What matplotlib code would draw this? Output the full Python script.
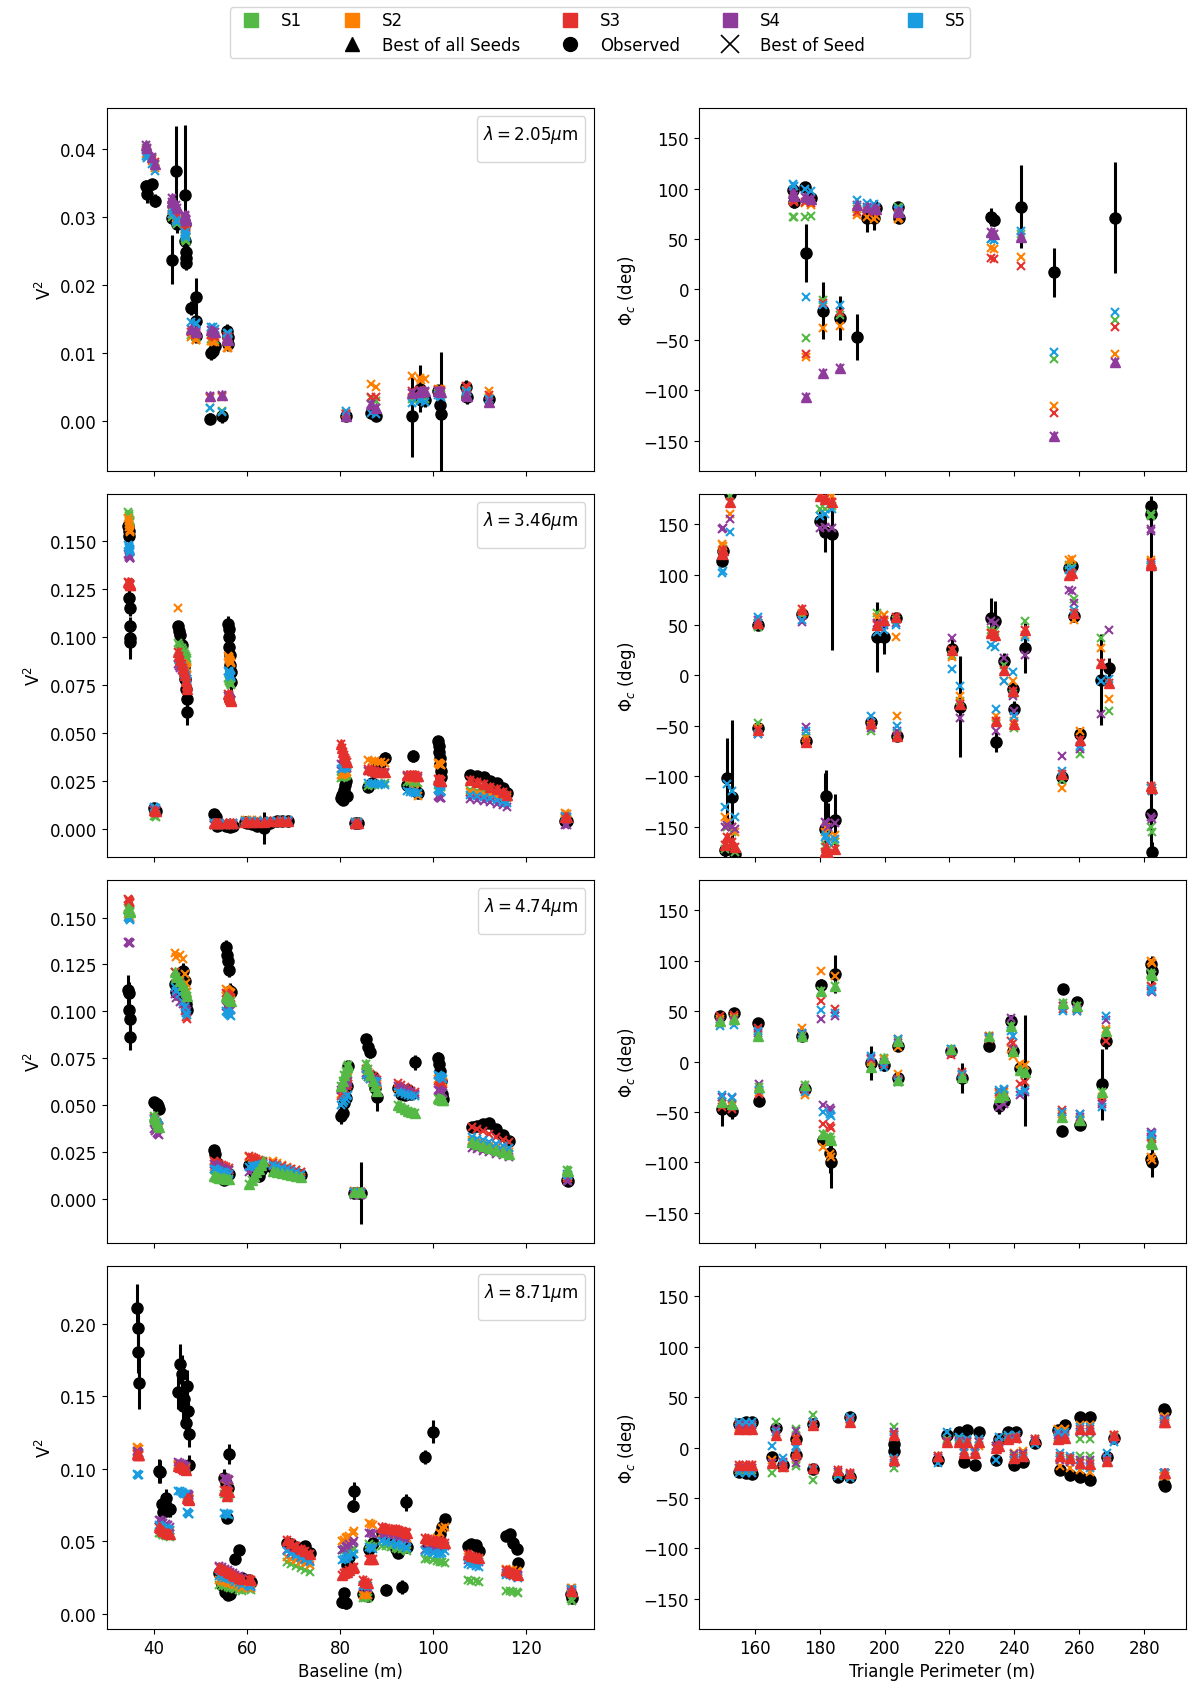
import matplotlib
matplotlib.use('Agg')
import matplotlib.pyplot as plt
from matplotlib.lines import Line2D
from matplotlib.ticker import MultipleLocator

plt.rcParams['font.size'] = 12

SEED_NAMES = ['S1', 'S2', 'S3', 'S4', 'S5']
SEED_COLORS = ['#55b946', '#ff8000', '#e5312e', '#8e3b9c', '#1a9de0']
WAVELENGTHS = ['2.05', '3.46', '4.74', '8.71']
BEST_SEED = [3, 2, 0, 2]

# ---------------- row 1 : 2.05 um ----------------
V1_X = [38.2, 38.4, 39.5, 40.2, 43.8, 43.9, 44.8, 44.9,
        46.7, 46.7, 46.7, 46.8, 46.8, 46.9, 47.9, 48.9, 48.9, 48.9,
        52.1, 52.3, 52.6, 53.2, 54.6, 55.7, 55.8, 55.9,
        81.3, 86.7, 87.8, 95.4, 97.2, 97.5, 98.2,
        101.1, 101.5, 101.8, 107.2, 107.3, 112.1]
V1_OBS = [0.0345, 0.0333, 0.0348, 0.0324, 0.0237, 0.0298, 0.0368, 0.0289,
          0.0332, 0.0289, 0.0264, 0.0249, 0.0240, 0.0232, 0.0166, 0.0183, 0.0147, 0.0125,
          0.0004, 0.0100, 0.0103, 0.0110, 0.0008, 0.0133, 0.0113, 0.0123,
          0.0008, 0.0012, 0.0008, 0.0008, 0.0048, 0.0031, 0.0031,
          0.0045, 0.0024, 0.0011, 0.0050, 0.0035, 0.0033]
V1_ERR = [0.0010, 0.0012, 0.0008, 0.0010, 0.0036, 0.0010, 0.0065, 0.0012,
          0.0103, 0.0010, 0.0010, 0.0010, 0.0010, 0.0010, 0.0010, 0.0027, 0.0010, 0.0010,
          0.0008, 0.0010, 0.0010, 0.0010, 0.0010, 0.0010, 0.0010, 0.0010,
          0.0006, 0.0005, 0.0005, 0.0060, 0.0035, 0.0010, 0.0010,
          0.0010, 0.0010, 0.0090, 0.0010, 0.0010, 0.0008]
V1_S1 = [0.0402, 0.0400, 0.0386, 0.0376, 0.0305, 0.0300, 0.0292, 0.0290,
         0.0272, 0.0270, 0.0268, 0.0266, 0.0265, 0.0264, 0.0126, 0.0125, 0.0124, 0.0123,
         0.0020, 0.0121, 0.0120, 0.0119, 0.0015, 0.0120, 0.0119, 0.0118,
         0.0010, 0.0034, 0.0030, 0.0032, 0.0033, 0.0034, 0.0033,
         0.0041, 0.0040, 0.0039, 0.0040, 0.0039, 0.0032]
V1_S2 = [0.0392, 0.0388, 0.0382, 0.0372, 0.0312, 0.0305, 0.0298, 0.0295,
         0.0288, 0.0285, 0.0283, 0.0281, 0.0280, 0.0279, 0.0123, 0.0121, 0.0120, 0.0119,
         0.0034, 0.0118, 0.0117, 0.0116, 0.0036, 0.0108, 0.0107, 0.0110,
         0.0012, 0.0055, 0.0050, 0.0066, 0.0063, 0.0060, 0.0062,
         0.0048, 0.0047, 0.0046, 0.0046, 0.0045, 0.0045]
V1_S3 = [0.0398, 0.0395, 0.0385, 0.0380, 0.0318, 0.0312, 0.0308, 0.0302,
         0.0292, 0.0290, 0.0288, 0.0286, 0.0285, 0.0284, 0.0131, 0.0129, 0.0128, 0.0127,
         0.0036, 0.0126, 0.0125, 0.0124, 0.0037, 0.0125, 0.0124, 0.0123,
         0.0011, 0.0036, 0.0035, 0.0045, 0.0046, 0.0044, 0.0043,
         0.0046, 0.0045, 0.0044, 0.0052, 0.0050, 0.0038]
V1_S4 = [0.0405, 0.0402, 0.0388, 0.0378, 0.0328, 0.0322, 0.0318, 0.0313,
         0.0303, 0.0301, 0.0299, 0.0297, 0.0296, 0.0295, 0.0135, 0.0133, 0.0132, 0.0131,
         0.0037, 0.0134, 0.0133, 0.0131, 0.0039, 0.0122, 0.0121, 0.0120,
         0.0008, 0.0025, 0.0020, 0.0042, 0.0045, 0.0043, 0.0044,
         0.0045, 0.0044, 0.0043, 0.0038, 0.0037, 0.0028]
V1_S5 = [0.0390, 0.0387, 0.0378, 0.0368, 0.0310, 0.0305, 0.0295, 0.0292,
         0.0278, 0.0276, 0.0274, 0.0272, 0.0271, 0.0270, 0.0146, 0.0145, 0.0144, 0.0143,
         0.0019, 0.0139, 0.0138, 0.0136, 0.0014, 0.0130, 0.0129, 0.0128,
         0.0015, 0.0012, 0.0010, 0.0027, 0.0030, 0.0031, 0.0029,
         0.0038, 0.0037, 0.0036, 0.0044, 0.0043, 0.0033]

P1_X = [171.8, 172.0, 175.4, 177.5, 175.9, 181.1, 186.4, 191.6, 194.7, 196.8,
        197.3, 204.1, 204.6, 232.7, 233.8, 242.1, 252.2, 271.0]
P1_OBS = [99, 87, 102, 91, 36, -21, -28, -47, 71, 71, 81, 82, 71, 72, 69, 82, 17, 71]
P1_ERR = [5, 6, 5, 5, 29, 28, 22, 23, 14, 12, 8, 5, 5, 9, 6, 41, 24, 55]
P1_S1 = [72, 72, 72, 73, -48, -10, -25, 80, 80, 79, 78, 82, 81, 50, 49, 55, -69, -30]
P1_S2 = [90, 88, 86, 84, -67, -38, -36, 74, 72, 70, 73, 70, 71, 41, 40, 32, -116, -64]
P1_S3 = [88, 87, 87, 86, -64, -13, -22, 77, 78, 77, 78, 75, 76, 31, 30, 23, -123, -37]
P1_S4 = [96, 93, 92, 90, -107, -83, -78, 84, 82, 81, 80, 78, 77, 57, 55, 52, -145, -72]
P1_S5 = [105, 103, 100, 98, -7, -15, -15, 89, 86, 85, 82, 79, 80, 50, 49, 58, -62, -22]

# ---------------- row 2 : 3.46 um ----------------
V2_X = [34.4, 34.5, 34.6, 34.6, 34.7, 34.7, 34.8, 34.8,
        39.9, 40.1, 40.3,
        45.2, 45.3, 45.6, 45.9, 46.2, 46.5, 46.7, 46.9, 47.1, 47.1,
        55.9, 56.0, 56.1, 56.2, 56.3, 56.4, 56.5, 56.6,
        52.8, 53.3, 53.5, 54.0, 55.5, 56.4, 57.0,
        59.5, 60.0, 61.0, 62.2, 63.6, 65.0, 66.5, 67.5, 68.7,
        80.3, 80.5, 80.7, 80.9, 81.1, 81.3, 81.5,
        83.2, 83.8,
        86.0, 86.8, 87.5, 88.1, 88.8, 89.6,
        94.5, 95.0, 95.7, 96.2, 96.8,
        101.2, 101.3, 101.4, 101.5, 101.6, 101.7, 101.8,
        108.0, 109.5, 110.9, 112.3, 113.7, 115.0, 116.0,
        128.5, 128.8]
V2_OBS = [0.1576, 0.1550, 0.1528, 0.1203, 0.1151, 0.1056, 0.0995, 0.0975,
          0.0110, 0.0100, 0.0093,
          0.1055, 0.1030, 0.1009, 0.0957, 0.0900, 0.0844, 0.0780, 0.0731, 0.0679, 0.0609,
          0.1069, 0.1043, 0.1000, 0.0948, 0.0905, 0.0852, 0.0818, 0.0766,
          0.0075, 0.0060, 0.0014, 0.0020, 0.0012, 0.0009, 0.0015,
          0.0035, 0.0030, 0.0025, 0.0014, 0.0002, 0.0030, 0.0040, 0.0042, 0.0040,
          0.0160, 0.0175, 0.0150, 0.0200, 0.0230, 0.0250, 0.0170,
          0.0031, 0.0030,
          0.0220, 0.0240, 0.0300, 0.0320, 0.0350, 0.0370,
          0.0230, 0.0210, 0.0380, 0.0200, 0.0185,
          0.0460, 0.0430, 0.0400, 0.0370, 0.0340, 0.0300, 0.0270,
          0.0280, 0.0275, 0.0270, 0.0250, 0.0240, 0.0215, 0.0185,
          0.0042, 0.0038]
V2_ERR = [0.003, 0.003, 0.003, 0.004, 0.004, 0.005, 0.008, 0.009,
          0.001, 0.001, 0.001,
          0.003, 0.003, 0.003, 0.003, 0.003, 0.003, 0.004, 0.004, 0.005, 0.007,
          0.004, 0.004, 0.004, 0.004, 0.004, 0.005, 0.005, 0.006,
          0.001, 0.001, 0.001, 0.001, 0.001, 0.001, 0.001,
          0.001, 0.001, 0.001, 0.001, 0.0083, 0.001, 0.001, 0.001, 0.001,
          0.0015, 0.0015, 0.0015, 0.0015, 0.0015, 0.0015, 0.0015,
          0.0008, 0.0008,
          0.0015, 0.0015, 0.0015, 0.0015, 0.002, 0.003,
          0.0015, 0.0015, 0.003, 0.0015, 0.0015,
          0.0015, 0.0015, 0.0015, 0.0015, 0.0015, 0.0015, 0.0015,
          0.0015, 0.0015, 0.0015, 0.0015, 0.0015, 0.0015, 0.0015,
          0.001, 0.001]
V2_S1 = [0.1650, 0.1640, 0.1630, 0.1620, 0.1610, 0.1605, 0.1600, 0.1598,
         0.0068, 0.0066, 0.0064,
         0.0970, 0.0960, 0.0950, 0.0940, 0.0930, 0.0920, 0.0910, 0.0900, 0.0890, 0.0880,
         0.0785, 0.0780, 0.0775, 0.0770, 0.0765, 0.0760, 0.0755, 0.0750,
         0.0020, 0.0021, 0.0022, 0.0020, 0.0019, 0.0018, 0.0020,
         0.0030, 0.0030, 0.0031, 0.0031, 0.0032, 0.0032, 0.0033, 0.0033, 0.0034,
         0.0265, 0.0268, 0.0270, 0.0272, 0.0274, 0.0276, 0.0278,
         0.0030, 0.0030,
         0.0225, 0.0228, 0.0230, 0.0232, 0.0235, 0.0238,
         0.0245, 0.0243, 0.0241, 0.0239, 0.0237,
         0.0230, 0.0228, 0.0226, 0.0224, 0.0222, 0.0220, 0.0218,
         0.0200, 0.0195, 0.0190, 0.0185, 0.0180, 0.0175, 0.0170,
         0.0055, 0.0053]
V2_S2 = [0.1620, 0.1605, 0.1590, 0.1575, 0.1560, 0.1555, 0.1550, 0.1545,
         0.0100, 0.0098, 0.0096,
         0.1150, 0.0880, 0.0870, 0.0865, 0.0860, 0.0855, 0.0850, 0.0845, 0.0840, 0.0835,
         0.0900, 0.0895, 0.0890, 0.0885, 0.0880, 0.0875, 0.0870, 0.0865,
         0.0025, 0.0026, 0.0027, 0.0025, 0.0024, 0.0023, 0.0025,
         0.0045, 0.0045, 0.0044, 0.0044, 0.0043, 0.0043, 0.0042, 0.0042, 0.0041,
         0.0280, 0.0282, 0.0285, 0.0288, 0.0290, 0.0292, 0.0295,
         0.0035, 0.0035,
         0.0360, 0.0355, 0.0352, 0.0350, 0.0348, 0.0345,
         0.0270, 0.0265, 0.0260, 0.0200, 0.0170,
         0.0345, 0.0342, 0.0340, 0.0338, 0.0336, 0.0334, 0.0332,
         0.0190, 0.0185, 0.0180, 0.0175, 0.0170, 0.0165, 0.0160,
         0.0080, 0.0078]
V2_S3 = [0.1285, 0.1283, 0.1281, 0.1279, 0.1277, 0.1275, 0.1273, 0.1271,
         0.0096, 0.0094, 0.0092,
         0.0920, 0.0900, 0.0880, 0.0860, 0.0840, 0.0820, 0.0800, 0.0770, 0.0750, 0.0730,
         0.0700, 0.0695, 0.0690, 0.0685, 0.0680, 0.0675, 0.0670, 0.0668,
         0.0030, 0.0031, 0.0032, 0.0030, 0.0029, 0.0028, 0.0030,
         0.0035, 0.0036, 0.0036, 0.0037, 0.0037, 0.0038, 0.0038, 0.0039, 0.0039,
         0.0440, 0.0420, 0.0400, 0.0385, 0.0370, 0.0360, 0.0350,
         0.0032, 0.0032,
         0.0310, 0.0305, 0.0300, 0.0298, 0.0296, 0.0294,
         0.0280, 0.0280, 0.0279, 0.0278, 0.0277,
         0.0260, 0.0258, 0.0256, 0.0254, 0.0252, 0.0250, 0.0248,
         0.0255, 0.0245, 0.0235, 0.0220, 0.0205, 0.0190, 0.0175,
         0.0062, 0.0060]
V2_S4 = [0.1430, 0.1425, 0.1420, 0.1418, 0.1416, 0.1414, 0.1412, 0.1410,
         0.0102, 0.0100, 0.0098,
         0.0860, 0.0850, 0.0840, 0.0830, 0.0820, 0.0810, 0.0800, 0.0790, 0.0780, 0.0770,
         0.0690, 0.0685, 0.0680, 0.0678, 0.0676, 0.0674, 0.0672, 0.0670,
         0.0022, 0.0023, 0.0024, 0.0022, 0.0021, 0.0020, 0.0022,
         0.0030, 0.0031, 0.0031, 0.0032, 0.0032, 0.0033, 0.0033, 0.0034, 0.0034,
         0.0340, 0.0335, 0.0330, 0.0325, 0.0320, 0.0318, 0.0315,
         0.0018, 0.0018,
         0.0300, 0.0298, 0.0296, 0.0294, 0.0292, 0.0290,
         0.0275, 0.0273, 0.0271, 0.0269, 0.0267,
         0.0170, 0.0168, 0.0166, 0.0164, 0.0162, 0.0160, 0.0158,
         0.0155, 0.0150, 0.0145, 0.0140, 0.0130, 0.0122, 0.0115,
         0.0022, 0.0020]
V2_S5 = [0.1480, 0.1475, 0.1470, 0.1465, 0.1460, 0.1455, 0.1450, 0.1445,
         0.0112, 0.0110, 0.0108,
         0.0890, 0.0880, 0.0870, 0.0850, 0.0830, 0.0810, 0.0800, 0.0790, 0.0780, 0.0770,
         0.0825, 0.0820, 0.0815, 0.0810, 0.0805, 0.0800, 0.0795, 0.0790,
         0.0028, 0.0029, 0.0030, 0.0028, 0.0027, 0.0026, 0.0028,
         0.0040, 0.0040, 0.0041, 0.0041, 0.0042, 0.0042, 0.0043, 0.0043, 0.0044,
         0.0310, 0.0312, 0.0315, 0.0318, 0.0320, 0.0322, 0.0325,
         0.0033, 0.0033,
         0.0240, 0.0238, 0.0236, 0.0234, 0.0232, 0.0230,
         0.0195, 0.0193, 0.0191, 0.0189, 0.0187,
         0.0205, 0.0203, 0.0201, 0.0199, 0.0197, 0.0195, 0.0193,
         0.0175, 0.0170, 0.0165, 0.0160, 0.0150, 0.0140, 0.0132,
         0.0065, 0.0063]

P2_X = [149.9, 150.4, 152.5, 151.5, 153.0, 150.9, 154.0, 161.0, 161.0, 174.7,
        175.7, 180.1, 181.7, 183.8, 181.7, 184.8, 182.5, 182.0, 197.8, 199.9,
        203.5, 195.7, 203.8, 220.7, 223.3, 232.7, 234.0, 234.3, 236.9, 239.5,
        240.0, 243.1, 256.7, 257.7, 258.2, 254.6, 260.3, 266.6, 269.2, 282.0,
        282.2, 282.0, 282.3]
P2_OBS = [114, 123, 180, -102, -121, -173, -177, 50, -52, 61,
          -65, 153, 142, 140, -152, -143, -146, -120, 38, 38,
          57, -46, -60, 26, -31, 57, 54, -66, 14, -13,
          -33, 27, 107, 109, 59, -101, -58, -4, 7, 168,
          160, -137, -175]
P2_ERR = [5, 5, 5, 40, 77, 8, 8, 4, 4, 4,
          4, 10, 20, 115, 55, 25, 20, 26, 35, 17,
          5, 5, 5, 10, 50, 20, 20, 10, 8, 8,
          8, 25, 5, 5, 5, 5, 5, 45, 10, 10,
          10, 310, 10]
P2_S1 = [120, 125, 178, -150, -155, -172, -175, 48, -47, 60,
         -60, 165, 165, 168, -170, -165, -172, -168, 62, 60,
         55, -55, -58, 20, -25, 45, 44, -48, 10, -18,
         -52, 54, 110, 108, 76, -104, -78, 37, -35, 160,
         158, -150, -155]
P2_S2 = [130, 128, 160, -145, -150, -140, -155, 52, -52, 62,
         -62, 178, 176, 178, -155, -158, -160, -150, 58, 60,
         38, -50, -40, 18, -20, 42, 40, -40, -5, -5,
         -45, 40, 115, 116, 55, -112, -55, 27, -23, 115,
         113, -112, -115]
P2_S3 = [121, 124, 172, -160, -165, -168, -170, 52, -54, 66,
         -66, 178, 175, 172, -175, -172, -176, -170, 50, 55,
         58, -47, -60, 25, -28, 42, 40, -45, 5, -15,
         -48, 45, 100, 102, 62, -98, -64, 12, -7, 112,
         110, -110, -112]
P2_S4 = [145, 146, 155, -148, -150, -150, -152, 55, -58, 53,
         -51, 146, 147, 146, -145, -146, -150, -146, 52, 50,
         52, -52, -55, 37, -42, 54, 52, -55, 17, -20,
         -35, 20, 85, 84, 72, -80, -73, -38, 45, 145,
         143, -140, -142]
P2_S5 = [102, 104, 142, -108, -115, -130, -140, 58, -58, 55,
         -55, 158, 160, 165, -160, -162, -165, -158, 43, 45,
         50, -40, -50, 6, -10, 30, 28, -33, -5, 3,
         -40, 38, 105, 106, 65, -95, -70, -5, -3, 110,
         108, -112, -115]

# ---------------- row 3 : 4.74 um ----------------
V3_X = [34.4, 34.5, 34.6, 34.7, 34.8,
        39.9, 40.2, 40.5, 40.8, 41.1,
        44.5, 44.8, 45.5, 46.2, 46.7, 46.9, 47.0,
        55.5, 55.7, 55.9, 56.1, 56.3, 56.5,
        52.8, 53.2, 53.6, 54.0, 54.5, 55.0, 55.5, 56.0,
        60.5, 61.0, 61.5, 62.0, 62.5, 63.0, 63.5,
        65.5, 66.5, 67.5, 68.5, 69.5, 70.5, 71.5,
        83.1, 84.0, 84.5,
        80.3, 80.6, 80.9, 81.2, 81.5, 81.8,
        85.5, 86.0, 86.5, 87.0, 87.5, 88.0,
        92.5, 93.2, 94.0, 94.7, 95.3, 96.1,
        101.1, 101.3, 101.5, 101.7, 101.9, 102.1,
        108.5, 109.5, 110.8, 112.0, 113.5, 115.0, 116.3,
        128.8, 129.0]
V3_OBS = [0.1111, 0.1095, 0.1005, 0.0956, 0.0864,
          0.0518, 0.0510, 0.0505, 0.0495, 0.0480,
          0.1147, 0.1102, 0.1100, 0.1217, 0.1160, 0.1041, 0.1005,
          0.1340, 0.1300, 0.1270, 0.1220, 0.1110, 0.1100,
          0.0260, 0.0240, 0.0190, 0.0140, 0.0110, 0.0100, 0.0120, 0.0130,
          0.0180, 0.0160, 0.0140, 0.0125, 0.0120, 0.0150, 0.0170,
          0.0165, 0.0160, 0.0150, 0.0140, 0.0135, 0.0130, 0.0125,
          0.0032, 0.0030, 0.0029,
          0.0440, 0.0458, 0.0511, 0.0537, 0.0600, 0.0705,
          0.0850, 0.0810, 0.0780, 0.0650, 0.0590, 0.0540,
          0.0590, 0.0560, 0.0555, 0.0580, 0.0560, 0.0728,
          0.0750, 0.0720, 0.0680, 0.0630, 0.0560, 0.0530,
          0.0380, 0.0385, 0.0396, 0.0405, 0.0370, 0.0340, 0.0307,
          0.0100, 0.0095]
V3_ERR = [0.008, 0.006, 0.005, 0.005, 0.007,
          0.0015, 0.0015, 0.0015, 0.0015, 0.0015,
          0.004, 0.004, 0.004, 0.004, 0.004, 0.004, 0.004,
          0.004, 0.004, 0.004, 0.004, 0.004, 0.004,
          0.0015, 0.0015, 0.0015, 0.0015, 0.0015, 0.0015, 0.0015, 0.0015,
          0.0015, 0.0015, 0.0015, 0.0015, 0.0015, 0.0015, 0.0015,
          0.0012, 0.0012, 0.0012, 0.0012, 0.0012, 0.0012, 0.0012,
          0.001, 0.001, 0.0165,
          0.004, 0.003, 0.003, 0.003, 0.003, 0.003,
          0.003, 0.003, 0.003, 0.003, 0.003, 0.007,
          0.002, 0.002, 0.002, 0.002, 0.002, 0.004,
          0.003, 0.003, 0.003, 0.003, 0.003, 0.003,
          0.002, 0.002, 0.002, 0.002, 0.002, 0.002, 0.002,
          0.001, 0.001]
V3_S1 = [0.1550, 0.1545, 0.1540, 0.1535, 0.1530,
         0.0440, 0.0425, 0.0410, 0.0395, 0.0380,
         0.1210, 0.1180, 0.1160, 0.1140, 0.1120, 0.1100, 0.1080,
         0.1080, 0.1075, 0.1070, 0.1065, 0.1060, 0.1055,
         0.0120, 0.0118, 0.0115, 0.0112, 0.0110, 0.0108, 0.0106, 0.0104,
         0.0080, 0.0100, 0.0120, 0.0140, 0.0160, 0.0180, 0.0200,
         0.0145, 0.0140, 0.0135, 0.0130, 0.0125, 0.0120, 0.0115,
         0.0035, 0.0034, 0.0033,
         0.0600, 0.0630, 0.0660, 0.0680, 0.0700, 0.0714,
         0.0720, 0.0690, 0.0660, 0.0630, 0.0600, 0.0575,
         0.0500, 0.0490, 0.0480, 0.0470, 0.0460, 0.0455,
         0.0535, 0.0533, 0.0531, 0.0530, 0.0528, 0.0526,
         0.0300, 0.0290, 0.0280, 0.0270, 0.0260, 0.0250, 0.0240,
         0.0150, 0.0145]
V3_S2 = [0.1520, 0.1515, 0.1510, 0.1505, 0.1500,
         0.0420, 0.0410, 0.0400, 0.0390, 0.0380,
         0.1310, 0.1290, 0.1300, 0.1280, 0.1200, 0.1150, 0.1100,
         0.1120, 0.1115, 0.1110, 0.1105, 0.1100, 0.1095,
         0.0170, 0.0168, 0.0165, 0.0162, 0.0160, 0.0158, 0.0156, 0.0154,
         0.0220, 0.0215, 0.0210, 0.0205, 0.0200, 0.0195, 0.0190,
         0.0200, 0.0190, 0.0180, 0.0170, 0.0160, 0.0150, 0.0140,
         0.0038, 0.0037, 0.0036,
         0.0560, 0.0580, 0.0600, 0.0620, 0.0640, 0.0650,
         0.0660, 0.0650, 0.0640, 0.0630, 0.0620, 0.0610,
         0.0590, 0.0580, 0.0575, 0.0570, 0.0560, 0.0555,
         0.0640, 0.0636, 0.0632, 0.0628, 0.0624, 0.0620,
         0.0310, 0.0300, 0.0290, 0.0280, 0.0270, 0.0260, 0.0250,
         0.0120, 0.0118]
V3_S3 = [0.1600, 0.1595, 0.1590, 0.1585, 0.1580,
         0.0430, 0.0418, 0.0405, 0.0392, 0.0380,
         0.1210, 0.1180, 0.1150, 0.1100, 0.1000, 0.0970, 0.0960,
         0.1095, 0.1090, 0.1085, 0.1080, 0.1075, 0.1070,
         0.0200, 0.0195, 0.0190, 0.0185, 0.0180, 0.0175, 0.0170, 0.0165,
         0.0225, 0.0220, 0.0215, 0.0210, 0.0205, 0.0200, 0.0195,
         0.0190, 0.0180, 0.0172, 0.0165, 0.0158, 0.0150, 0.0142,
         0.0036, 0.0035, 0.0034,
         0.0550, 0.0560, 0.0570, 0.0580, 0.0600, 0.0610,
         0.0690, 0.0675, 0.0665, 0.0655, 0.0645, 0.0635,
         0.0615, 0.0605, 0.0595, 0.0585, 0.0575, 0.0570,
         0.0630, 0.0626, 0.0622, 0.0618, 0.0614, 0.0610,
         0.0380, 0.0370, 0.0360, 0.0345, 0.0330, 0.0315, 0.0300,
         0.0110, 0.0108]
V3_S4 = [0.1370, 0.1368, 0.1366, 0.1364, 0.1362,
         0.0370, 0.0360, 0.0350, 0.0345, 0.0340,
         0.1090, 0.1070, 0.1050, 0.1040, 0.1030, 0.1010, 0.1000,
         0.1030, 0.1025, 0.1020, 0.1015, 0.1010, 0.1005,
         0.0185, 0.0180, 0.0175, 0.0170, 0.0165, 0.0160, 0.0155, 0.0150,
         0.0140, 0.0150, 0.0160, 0.0170, 0.0175, 0.0180, 0.0185,
         0.0175, 0.0168, 0.0160, 0.0153, 0.0146, 0.0139, 0.0132,
         0.0020, 0.0020, 0.0019,
         0.0580, 0.0590, 0.0600, 0.0610, 0.0620, 0.0630,
         0.0670, 0.0660, 0.0650, 0.0640, 0.0630, 0.0620,
         0.0600, 0.0592, 0.0584, 0.0576, 0.0568, 0.0560,
         0.0580, 0.0577, 0.0574, 0.0571, 0.0568, 0.0565,
         0.0270, 0.0262, 0.0254, 0.0246, 0.0238, 0.0230, 0.0220,
         0.0095, 0.0092]
V3_S5 = [0.1505, 0.1500, 0.1495, 0.1490, 0.1485,
         0.0425, 0.0415, 0.0405, 0.0395, 0.0385,
         0.1130, 0.1110, 0.1090, 0.1050, 0.1020, 0.0990, 0.0980,
         0.1000, 0.0995, 0.0990, 0.0985, 0.0980, 0.0975,
         0.0160, 0.0156, 0.0152, 0.0148, 0.0144, 0.0140, 0.0136, 0.0132,
         0.0170, 0.0172, 0.0174, 0.0176, 0.0178, 0.0180, 0.0182,
         0.0180, 0.0172, 0.0164, 0.0156, 0.0148, 0.0140, 0.0132,
         0.0034, 0.0033, 0.0032,
         0.0500, 0.0510, 0.0520, 0.0530, 0.0545, 0.0555,
         0.0660, 0.0650, 0.0640, 0.0630, 0.0625, 0.0620,
         0.0570, 0.0565, 0.0560, 0.0555, 0.0550, 0.0548,
         0.0660, 0.0656, 0.0652, 0.0648, 0.0644, 0.0640,
         0.0330, 0.0320, 0.0310, 0.0300, 0.0290, 0.0280, 0.0270,
         0.0130, 0.0128]

P3_X = [149.4, 153.5, 149.9, 153.0, 161.0, 161.4, 174.7, 175.4, 180.4, 184.8,
        181.1, 183.2, 183.6, 195.7, 199.9, 204.1, 204.1, 220.5, 223.9, 232.2,
        235.3, 236.9, 239.0, 239.5, 241.6, 243.1, 254.6, 260.3, 255.1, 259.3,
        268.1, 267.1, 282.0, 282.5, 282.0, 282.5]
P3_OBS = [45.5, 48.2, -47.5, -49, 37.9, -39.2, 25.6, -27.6, 75.4, 87,
          -77.4, -91, -100, -1.7, -3.3, 15.6, -16.6, 10.6, -16, 15.6,
          -44, -39.2, 40.5, 10.6, -6, -9.3, -69, -62.5, 72, 58.8,
          20.6, -22.6, 97, 90, -97, -100]
P3_ERR = [4, 4, 16, 8, 4, 4, 4, 4, 6, 19,
          8, 20, 25, 17, 6, 4, 4, 4, 15, 4,
          8, 6, 6, 6, 6, 55, 5, 5, 5, 5,
          8, 35, 6, 15, 6, 15]
P3_S1 = [40, 42, -40, -42, 25, -25, 25, -23, 70, 75,
         -72, -75, -78, -5, 3, 20, -18, 12, -15, 25,
         -35, -33, 35, 10, -8, -10, -55, -58, 58, 55,
         30, -30, 88, 86, -80, -82]
P3_S2 = [42, 44, -42, -44, 30, -30, 33, -33, 90, 85,
         -85, -92, -95, 0, 2, 14, -12, 10, -12, 25,
         -32, -30, 12, 5, -2, -3, -52, -57, 55, 52,
         32, -35, 100, 98, -95, -98]
P3_S3 = [45, 46, -45, -47, 33, -32, 28, -28, 60, 52,
         -62, -64, -66, 2, -2, 22, -20, 6, -10, 22,
         -30, -28, 20, 18, -22, -20, -48, -52, 52, 50,
         20, -40, 75, 74, -75, -77]
P3_S4 = [38, 40, -35, -36, 28, -22, 27, -26, 42, 45,
         -43, -46, -48, 3, 0, 18, -17, 9, -13, 24,
         -45, -42, 43, 12, -33, -30, -50, -55, 55, 52,
         41, -42, 70, 69, -70, -71]
P3_S5 = [35, 36, -33, -35, 30, -28, 28, -30, 51, 48,
         -50, -52, -54, 5, -5, 22, -20, 12, -12, 23,
         -28, -27, 30, 25, -30, -28, -50, -52, 50, 50,
         45, -45, 72, 70, -72, -73]

# ---------------- row 4 : 8.71 um ----------------
V4_X = [36.4, 36.5, 36.6, 36.7,
        41.0, 41.3, 41.7, 42.0, 42.5, 43.0, 43.3,
        45.2, 45.6, 45.9, 46.2, 46.5, 46.8, 47.1, 47.3, 47.4, 47.5,
        55.0, 55.5, 55.8, 56.1, 55.6,
        54.0, 54.6, 55.2, 55.8, 56.4, 57.0, 57.5, 58.3, 59.0,
        60.5, 60.9,
        68.5, 69.5, 70.5, 71.5, 72.5, 73.5,
        80.5, 80.9, 81.25, 81.6, 82.0, 82.7, 83.1,
        85.0, 85.4, 86.0, 86.3, 86.7, 87.2,
        89.0, 90.0, 91.0, 92.0, 92.5, 93.3, 94.2, 94.5,
        98.2, 99.0, 100.0, 100.8, 101.5, 102.0, 102.5,
        107.5, 108.3, 109.2, 110.0,
        115.8, 116.7, 117.3, 118.0, 118.3,
        129.8, 130.0]
V4_OBS = [0.2107, 0.1969, 0.1805, 0.1594,
          0.0986, 0.0980, 0.0757, 0.0700, 0.0800, 0.0721, 0.0720,
          0.1530, 0.1724, 0.1654, 0.1435, 0.1480, 0.1320, 0.1574, 0.1400, 0.1240, 0.1025,
          0.0940, 0.0906, 0.0870, 0.1101, 0.0660,
          0.0280, 0.0200, 0.0150, 0.0130, 0.0140, 0.0220, 0.0375, 0.0440, 0.0250,
          0.0236, 0.0220,
          0.0490, 0.0480, 0.0460, 0.0450, 0.0468, 0.0420,
          0.0080, 0.0144, 0.0074, 0.0340, 0.0390, 0.0744, 0.0848,
          0.0140, 0.0132, 0.0125, 0.0450, 0.0468, 0.0490,
          0.0560, 0.0167, 0.0520, 0.0450, 0.0420, 0.0185, 0.0769, 0.0460,
          0.1083, 0.0470, 0.1256, 0.0450, 0.0550, 0.0600, 0.0653,
          0.0470, 0.0480, 0.0475, 0.0430,
          0.0540, 0.0550, 0.0490, 0.0444, 0.0350,
          0.0140, 0.0110]
V4_ERR = [0.017, 0.014, 0.014, 0.018,
          0.008, 0.008, 0.006, 0.006, 0.006, 0.005, 0.005,
          0.012, 0.014, 0.013, 0.011, 0.012, 0.010, 0.011, 0.010, 0.009, 0.007,
          0.006, 0.005, 0.005, 0.007, 0.003,
          0.003, 0.003, 0.003, 0.003, 0.003, 0.003, 0.003, 0.003, 0.003,
          0.003, 0.003,
          0.003, 0.003, 0.003, 0.003, 0.003, 0.003,
          0.004, 0.003, 0.004, 0.003, 0.003, 0.004, 0.006,
          0.003, 0.003, 0.003, 0.003, 0.003, 0.003,
          0.003, 0.004, 0.003, 0.003, 0.003, 0.005, 0.006, 0.003,
          0.005, 0.003, 0.008, 0.003, 0.003, 0.003, 0.003,
          0.003, 0.003, 0.003, 0.003,
          0.003, 0.003, 0.003, 0.003, 0.003,
          0.002, 0.002]
V4_S1 = [0.1120, 0.1115, 0.1110, 0.1105,
         0.0560, 0.0555, 0.0550, 0.0545, 0.0540, 0.0535, 0.0530,
         0.1030, 0.1025, 0.1020, 0.1015, 0.1010, 0.1005, 0.0800, 0.0795, 0.0790, 0.0785,
         0.0830, 0.0825, 0.0820, 0.0815, 0.0800,
         0.0200, 0.0195, 0.0190, 0.0185, 0.0180, 0.0175, 0.0170, 0.0165, 0.0160,
         0.0170, 0.0165,
         0.0360, 0.0345, 0.0330, 0.0315, 0.0300, 0.0285,
         0.0440, 0.0440, 0.0440, 0.0440, 0.0440, 0.0450, 0.0450,
         0.0110, 0.0110, 0.0110, 0.0480, 0.0470, 0.0460,
         0.0470, 0.0465, 0.0460, 0.0455, 0.0450, 0.0445, 0.0440, 0.0435,
         0.0380, 0.0375, 0.0370, 0.0365, 0.0360, 0.0355, 0.0350,
         0.0230, 0.0228, 0.0225, 0.0220,
         0.0160, 0.0155, 0.0150, 0.0148, 0.0145,
         0.0100, 0.0090]
V4_S2 = [0.1150, 0.1145, 0.1140, 0.1135,
         0.0600, 0.0595, 0.0590, 0.0585, 0.0580, 0.0575, 0.0570,
         0.1035, 0.1030, 0.1025, 0.1020, 0.1015, 0.1010, 0.0810, 0.0805, 0.0800, 0.0795,
         0.0935, 0.0930, 0.0925, 0.0920, 0.0900,
         0.0230, 0.0225, 0.0220, 0.0215, 0.0210, 0.0205, 0.0200, 0.0190, 0.0180,
         0.0180, 0.0175,
         0.0390, 0.0380, 0.0370, 0.0360, 0.0350, 0.0340,
         0.0500, 0.0510, 0.0520, 0.0530, 0.0540, 0.0560, 0.0570,
         0.0130, 0.0130, 0.0130, 0.0630, 0.0620, 0.0610,
         0.0560, 0.0555, 0.0550, 0.0545, 0.0540, 0.0535, 0.0530, 0.0525,
         0.0440, 0.0460, 0.0480, 0.0520, 0.0560, 0.0590, 0.0600,
         0.0390, 0.0385, 0.0380, 0.0375,
         0.0310, 0.0305, 0.0300, 0.0295, 0.0290,
         0.0180, 0.0175]
V4_S3 = [0.1100, 0.1098, 0.1096, 0.1094,
         0.0600, 0.0590, 0.0580, 0.0570, 0.0560, 0.0555, 0.0550,
         0.1020, 0.1015, 0.1010, 0.1005, 0.1000, 0.0995, 0.0800, 0.0795, 0.0790, 0.0785,
         0.0855, 0.0850, 0.0845, 0.0840, 0.0810,
         0.0320, 0.0310, 0.0300, 0.0290, 0.0280, 0.0270, 0.0260, 0.0250, 0.0240,
         0.0240, 0.0235,
         0.0510, 0.0490, 0.0470, 0.0450, 0.0430, 0.0410,
         0.0270, 0.0280, 0.0285, 0.0290, 0.0300, 0.0315, 0.0320,
         0.0230, 0.0220, 0.0210, 0.0380, 0.0380, 0.0375,
         0.0600, 0.0594, 0.0588, 0.0582, 0.0576, 0.0570, 0.0564, 0.0558,
         0.0520, 0.0515, 0.0510, 0.0505, 0.0500, 0.0495, 0.0490,
         0.0410, 0.0400, 0.0395, 0.0385,
         0.0300, 0.0290, 0.0280, 0.0275, 0.0270,
         0.0165, 0.0160]
V4_S4 = [0.1125, 0.1120, 0.1115, 0.1110,
         0.0650, 0.0645, 0.0640, 0.0630, 0.0620, 0.0610, 0.0600,
         0.1045, 0.1040, 0.1035, 0.1030, 0.1025, 0.1020, 0.0830, 0.0825, 0.0820, 0.0815,
         0.0940, 0.0935, 0.0930, 0.0925, 0.0900,
         0.0330, 0.0320, 0.0310, 0.0300, 0.0290, 0.0280, 0.0270, 0.0260, 0.0250,
         0.0200, 0.0195,
         0.0440, 0.0425, 0.0410, 0.0395, 0.0380, 0.0365,
         0.0440, 0.0450, 0.0460, 0.0470, 0.0480, 0.0490, 0.0500,
         0.0190, 0.0185, 0.0180, 0.0560, 0.0555, 0.0550,
         0.0540, 0.0535, 0.0530, 0.0525, 0.0520, 0.0515, 0.0510, 0.0505,
         0.0440, 0.0445, 0.0450, 0.0455, 0.0460, 0.0465, 0.0470,
         0.0370, 0.0365, 0.0360, 0.0355,
         0.0280, 0.0275, 0.0270, 0.0265, 0.0260,
         0.0150, 0.0145]
V4_S5 = [0.0963, 0.0960, 0.0958, 0.0956,
         0.0610, 0.0605, 0.0600, 0.0595, 0.0590, 0.0585, 0.0580,
         0.0850, 0.0845, 0.0840, 0.0835, 0.0830, 0.0825, 0.0700, 0.0695, 0.0690, 0.0688,
         0.0695, 0.0690, 0.0688, 0.0685, 0.0690,
         0.0260, 0.0255, 0.0250, 0.0245, 0.0240, 0.0230, 0.0220, 0.0210, 0.0200,
         0.0190, 0.0185,
         0.0430, 0.0415, 0.0400, 0.0385, 0.0370, 0.0355,
         0.0370, 0.0375, 0.0380, 0.0390, 0.0400, 0.0410, 0.0415,
         0.0200, 0.0195, 0.0190, 0.0460, 0.0455, 0.0450,
         0.0500, 0.0493, 0.0486, 0.0479, 0.0472, 0.0465, 0.0458, 0.0451,
         0.0430, 0.0425, 0.0420, 0.0415, 0.0410, 0.0420, 0.0430,
         0.0345, 0.0340, 0.0330, 0.0325,
         0.0270, 0.0265, 0.0260, 0.0255, 0.0250,
         0.0170, 0.0165]

P4_X = [155.1, 157.2, 159.3, 155.1, 157.2, 159.3, 165.5, 166.6, 168.6, 172.8,
        172.8, 178.0, 178.0, 185.8, 189.5, 189.5, 203.0, 203.0, 216.6, 219.2,
        222.8, 225.4, 229.1, 224.5, 228.0, 234.3, 235.3, 237.9, 240.5, 240.0,
        242.6, 246.2, 253.5, 255.6, 254.1, 257.2, 260.3, 263.4, 260.3, 263.4,
        268.6, 270.7, 286.0, 286.5, 286.0, 286.5]
P4_OBS = [23.8, 25.0, 25.5, -24.2, -25.0, -25.8, -9.3, 18.9, -17.5, 8.9,
          -7.6, 23.8, -20.9, -29, 30.5, -29, 3, -3, -12.6, 12.2,
          15.6, 17.2, 15.6, -14.2, -17.5, -12.6, 8.9, 15.6, 15.6, -17.5,
          -14.2, 4, 17.2, 22.2, -22.5, -27.5, 30.5, 30.5, -29, -32.5,
          -9.3, 9, 38.6, 36, -36.4, -38]
P4_ERR = [3, 3, 3, 3, 3, 3, 3, 3, 3, 3,
          3, 3, 3, 3, 3, 3, 4, 4, 3, 3,
          3, 3, 3, 3, 3, 3, 3, 3, 3, 3,
          3, 3, 3, 3, 3, 3, 3, 3, 3, 3,
          3, 3, 3, 3, 3, 3]
P4_S1 = [22, 22, 22, -22, -22, -22, -25, 25, -20, 18,
         -18, 32, -32, -26, 28, -28, 20, -20, -8, 8,
         8, 7, 6, -3, -3, 0, 5, 10, 10, -8,
         -6, 8, 10, 10, -10, -12, 8, 8, -8, -8,
         -15, 10, 30, 30, -28, -28]
P4_S2 = [20, 20, 20, -20, -20, -20, -12, 15, -15, 10,
         -10, 25, -22, -24, 27, -26, 12, -12, -10, 6,
         4, 3, 2, -2, -2, 2, 4, 8, 8, -5,
         -3, 6, 18, 18, -18, -20, 22, 22, -22, -24,
         -10, 12, 30, 30, -28, -28]
P4_S3 = [18, 18, 18, -17, -17, -17, -15, 12, -18, 8,
         -5, 22, -20, -22, 25, -25, 12, -12, -8, 5,
         5, 5, 5, -5, -5, 0, 2, 8, 10, -10,
         -8, 8, 8, 9, -8, -10, 18, 18, -15, -16,
         -13, 12, 25, 25, -25, -25]
P4_S4 = [22, 22, 22, -20, -20, -20, -15, 18, -14, 16,
         -15, 25, -22, -24, 28, -27, 15, -15, -10, 6,
         6, 6, 5, -3, -3, 2, 5, 8, 8, -6,
         -5, 6, 12, 12, -12, -14, 15, 15, -12, -12,
         -10, 8, 28, 28, -25, -25]
P4_S5 = [25, 25, 25, -25, -25, -25, 2, 15, -10, 0,
         2, 25, -22, -28, 30, -30, 10, -10, -15, 15,
         10, 8, 8, -5, -5, -12, 10, 12, 12, -12,
         -10, 3, 15, 15, -5, -8, 20, 20, -18, -20,
         -5, 5, 26, 26, -25, -25]

VIS = [(V1_X, V1_OBS, V1_ERR, [V1_S1, V1_S2, V1_S3, V1_S4, V1_S5]),
       (V2_X, V2_OBS, V2_ERR, [V2_S1, V2_S2, V2_S3, V2_S4, V2_S5]),
       (V3_X, V3_OBS, V3_ERR, [V3_S1, V3_S2, V3_S3, V3_S4, V3_S5]),
       (V4_X, V4_OBS, V4_ERR, [V4_S1, V4_S2, V4_S3, V4_S4, V4_S5])]
CPH = [(P1_X, P1_OBS, P1_ERR, [P1_S1, P1_S2, P1_S3, P1_S4, P1_S5]),
       (P2_X, P2_OBS, P2_ERR, [P2_S1, P2_S2, P2_S3, P2_S4, P2_S5]),
       (P3_X, P3_OBS, P3_ERR, [P3_S1, P3_S2, P3_S3, P3_S4, P3_S5]),
       (P4_X, P4_OBS, P4_ERR, [P4_S1, P4_S2, P4_S3, P4_S4, P4_S5])]

V_YLIM = [(-0.0073, 0.046), (-0.0147, 0.1745), (-0.0237, 0.170), (-0.0105, 0.240)]
V_YSTEP = [0.01, 0.025, 0.025, 0.05]


def draw(ax, x, obs, err, seeds, best):
    ax.errorbar(x, obs, yerr=err, fmt='o', color='black', ms=8,
                elinewidth=2.2, capsize=0, zorder=2)
    for i, s in enumerate(seeds):
        ax.plot(x, s, ls='none', marker='x', color=SEED_COLORS[i],
                ms=5.5, mew=1.5, zorder=3)
    ax.plot(x, seeds[best], ls='none', marker='^', color=SEED_COLORS[best],
            ms=7, zorder=4)


fig, axes = plt.subplots(4, 2, figsize=(12, 16.9), dpi=100, sharex='col')
fig.subplots_adjust(left=0.089, right=0.988, top=0.9355, bottom=0.0355,
                    hspace=0.0635, wspace=0.216)

for r in range(4):
    axl, axr = axes[r, 0], axes[r, 1]
    x, o, e, s = VIS[r]
    draw(axl, x, o, e, s, BEST_SEED[r])
    axl.set_ylim(*V_YLIM[r])
    axl.yaxis.set_major_locator(MultipleLocator(V_YSTEP[r]))
    axl.set_ylabel('V$^2$')
    lab = '$\\lambda = ' + WAVELENGTHS[r] + '\\mu$m\n'
    leg = axl.legend([Line2D([], [], ls='none')], [lab], loc='upper right',
                     handlelength=0, handletextpad=0, borderpad=0.4)
    leg.get_texts()[0].set_linespacing(0.45)

    x, o, e, s = CPH[r]
    draw(axr, x, o, e, s, BEST_SEED[r])
    axr.set_ylim(-180, 180)
    axr.set_yticks([-150, -100, -50, 0, 50, 100, 150])
    axr.set_ylabel('$\\Phi_c$ (deg)')

axes[0, 0].set_xlim(29.8, 134.6)
axes[0, 1].set_xlim(142.8, 292.7)
axes[3, 0].set_xlabel('Baseline (m)')
axes[3, 1].set_xlabel('Triangle Perimeter (m)')

blank = Line2D([], [], ls='none')
handles, labels = [], []
extra = [(blank, ''),
         (Line2D([], [], ls='none', marker='^', color='black', ms=10), 'Best of all Seeds'),
         (Line2D([], [], ls='none', marker='o', color='black', ms=10), 'Observed'),
         (Line2D([], [], ls='none', marker='x', color='black', ms=13, mew=1.2), 'Best of Seed'),
         (blank, '')]
for i in range(5):
    handles.append(Line2D([], [], ls='none', marker='s', color=SEED_COLORS[i], ms=10))
    labels.append(SEED_NAMES[i])
    handles.append(extra[i][0])
    labels.append(extra[i][1])

fig.legend(handles, labels, ncol=5, loc='upper center',
           bbox_to_anchor=(0.5, 1.0), fontsize=12,
           borderpad=0.25, labelspacing=0.4)

fig.savefig('out.png', dpi=100)
